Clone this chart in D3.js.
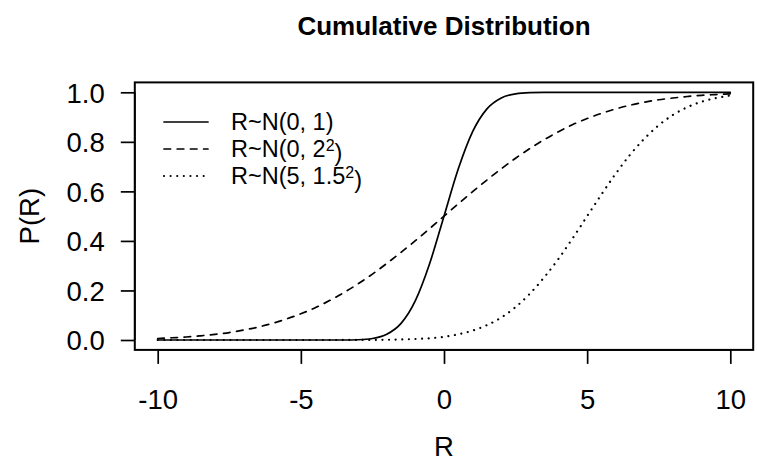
<!DOCTYPE html>
<html>
<head>
<meta charset="utf-8">
<script src="https://cdn.jsdelivr.net/npm/d3@7"></script>
<style>
  body { margin: 0; background: #fff; }
  svg { display: block; font-family: "Liberation Sans", Arial, Helvetica, sans-serif; }
  .tickLabel { font-size: 27.5px; fill: #000; }
  .axisTitle { font-size: 27.5px; fill: #000; }
  .legendText { font-size: 23.5px; fill: #000; }
</style>
</head>
<body>
<svg id="svg1"></svg>
<script>
// data ----------------------------------------
var rValues = [-10, -9.5, -9, -8.5, -8, -7.5, -7, -6.5, -6, -5.5, -5, -4.5, -4, -3.5, -3, -2.5, -2, -1.5, -1, -0.5,
  0, 0.5, 1, 1.5, 2, 2.5, 3, 3.5, 4, 4.5, 5, 5.5, 6, 6.5, 7, 7.5, 8, 8.5, 9, 9.5, 10];

// R~N(0, 1)
var pSolid = [0, 0, 0, 0, 0, 0, 0, 0, 0, 0, 0, 0, 0, 0, 0.001, 0.006, 0.023, 0.067, 0.159, 0.309,
  0.5, 0.691, 0.841, 0.933, 0.977, 0.994, 0.999, 1, 1, 1, 1, 1, 1, 1, 1, 1, 1, 1, 1, 1, 1];

// R~N(0, 2^2)
var pDashed = [0.006, 0.009, 0.012, 0.017, 0.023, 0.030, 0.040, 0.052, 0.067, 0.085, 0.106, 0.130, 0.159, 0.191, 0.227, 0.266, 0.309, 0.354, 0.401, 0.450,
  0.5, 0.550, 0.599, 0.646, 0.691, 0.734, 0.773, 0.809, 0.841, 0.870, 0.894, 0.915, 0.933, 0.948, 0.960, 0.970, 0.977, 0.983, 0.988, 0.991, 0.994];

// R~N(5, 1.5^2)
var pDotted = [0, 0, 0, 0, 0, 0, 0, 0, 0, 0, 0, 0, 0, 0.0001, 0.0002, 0.0004, 0.0009, 0.002, 0.004, 0.007,
  0.013, 0.023, 0.038, 0.060, 0.091, 0.133, 0.187, 0.253, 0.328, 0.412, 0.5, 0.588, 0.672, 0.748, 0.813, 0.867, 0.909, 0.940, 0.962, 0.977, 0.987];

var xTicks = [-10, -5, 0, 5, 10];
var yTicks = [0, 0.2, 0.4, 0.6, 0.8, 1.0];

var seriesNames = ["solid", "dashed", "dotted"];
var seriesValues = [pSolid, pDashed, pDotted];
var legendLabels = [
  { pre: "R~N(0, 1)", sup: "", post: "" },
  { pre: "R~N(0, 2", sup: "2", post: ")" },
  { pre: "R~N(5, 1.5", sup: "2", post: ")" }
];

// sizes ----------------------------------------
var width = 757;
var height = 462;
var plotLeft = 134.8, plotRight = 753.2, plotTop = 82.4, plotBottom = 349.9;
var tickLen = 14;
var lineW = 1.7;
var dashes = { solid: null, dashed: "6.6,6.6", dotted: "0.01,6.6" };

var svg = d3.select("#svg1")
  .attr("width", width)
  .attr("height", height);

// scales (R style 4% padding) ----------------------------------------
var x = d3.scaleLinear().domain([-10.8, 10.8]).range([plotLeft, plotRight]);
var y = d3.scaleLinear().domain([-0.04, 1.04]).range([plotBottom, plotTop]);

// curves ----------------------------------------
var line = d3.line()
  .x(function(d) { return x(d[0]); })
  .y(function(d) { return y(d[1]); })
  .curve(d3.curveMonotoneX);

svg.append("g")
  .selectAll("path")
  .data(seriesValues)
  .enter().append("path")
  .attr("d", function(vals) { return line(rValues.map(function(r, i) { return [r, vals[i]]; })); })
  .attr("fill", "none")
  .attr("stroke", "#000")
  .attr("stroke-width", function(d, i) { return seriesNames[i] == "dotted" ? 2.2 : lineW; })
  .attr("stroke-linecap", "round")
  .attr("stroke-dasharray", function(d, i) { return dashes[seriesNames[i]]; });

// box ----------------------------------------
svg.append("rect")
  .attr("x", plotLeft)
  .attr("y", plotTop)
  .attr("width", plotRight - plotLeft)
  .attr("height", plotBottom - plotTop)
  .attr("fill", "none")
  .attr("stroke", "#000")
  .attr("stroke-width", 2);

// x axis ----------------------------------------
var xAxis = svg.append("g")
  .attr("transform", "translate(0," + plotBottom + ")")
  .call(d3.axisBottom(x).tickValues(xTicks).tickSize(tickLen).tickPadding(26).tickFormat(d3.format("d")));
xAxis.select(".domain")
  .attr("d", "M" + x(-10) + ",0H" + x(10))
  .attr("stroke-width", 1.7);
xAxis.selectAll(".tick line").attr("stroke-width", 1.7);
xAxis.selectAll(".tick text")
  .attr("class", "tickLabel")
  .attr("font-family", null)
  .attr("font-size", null)
  .attr("dy", "0.71em")
  .text(function(d) { return d < 0 ? "-" + Math.abs(d) : d; });

// y axis ----------------------------------------
var yAxis = svg.append("g")
  .attr("transform", "translate(" + plotLeft + ",0)")
  .call(d3.axisLeft(y).tickValues(yTicks).tickSize(tickLen).tickPadding(16).tickFormat(d3.format(".1f")));
yAxis.select(".domain")
  .attr("d", "M0," + y(0) + "V" + y(1))
  .attr("stroke-width", 1.7);
yAxis.selectAll(".tick line").attr("stroke-width", 1.7);
yAxis.selectAll(".tick text")
  .attr("class", "tickLabel")
  .attr("font-family", null)
  .attr("font-size", null)
  .attr("dy", "0.36em");

// titles ----------------------------------------
svg.append("text")
  .attr("x", (plotLeft + plotRight) / 2)
  .attr("y", 35)
  .attr("text-anchor", "middle")
  .style("font-size", "26px")
  .style("font-weight", "bold")
  .text("Cumulative Distribution");

svg.append("text")
  .attr("class", "axisTitle")
  .attr("x", (plotLeft + plotRight) / 2)
  .attr("y", 456)
  .attr("text-anchor", "middle")
  .text("R");

svg.append("text")
  .attr("class", "axisTitle")
  .attr("transform", "translate(39," + ((plotTop + plotBottom) / 2) + ") rotate(-90)")
  .attr("text-anchor", "middle")
  .text("P(R)");

// legend ----------------------------------------
var legendX = 164, legendY = 122, legendStep = 27;
var legend = svg.append("g")
  .selectAll("g")
  .data(legendLabels)
  .enter().append("g")
  .attr("transform", function(d, i) { return "translate(" + legendX + "," + (legendY + i * legendStep) + ")"; });

legend.append("line")
  .attr("x1", 0)
  .attr("x2", 44)
  .attr("stroke", "#000")
  .attr("stroke-width", function(d, i) { return seriesNames[i] == "dotted" ? 2.2 : lineW; })
  .attr("stroke-linecap", "round")
  .attr("stroke-dasharray", function(d, i) { return dashes[seriesNames[i]]; });

var legendText = legend.append("text")
  .attr("class", "legendText")
  .attr("x", 67)
  .attr("dy", "0.36em");
legendText.append("tspan").text(function(d) { return d.pre; });
legendText.append("tspan")
  .attr("dy", "-0.42em")
  .style("font-size", "16px")
  .text(function(d) { return d.sup; });
legendText.append("tspan")
  .attr("dy", function(d) { return d.sup ? "0.42em" : null; })
  .style("font-size", "23.5px")
  .text(function(d) { return d.post; });
</script>
</body>
</html>
